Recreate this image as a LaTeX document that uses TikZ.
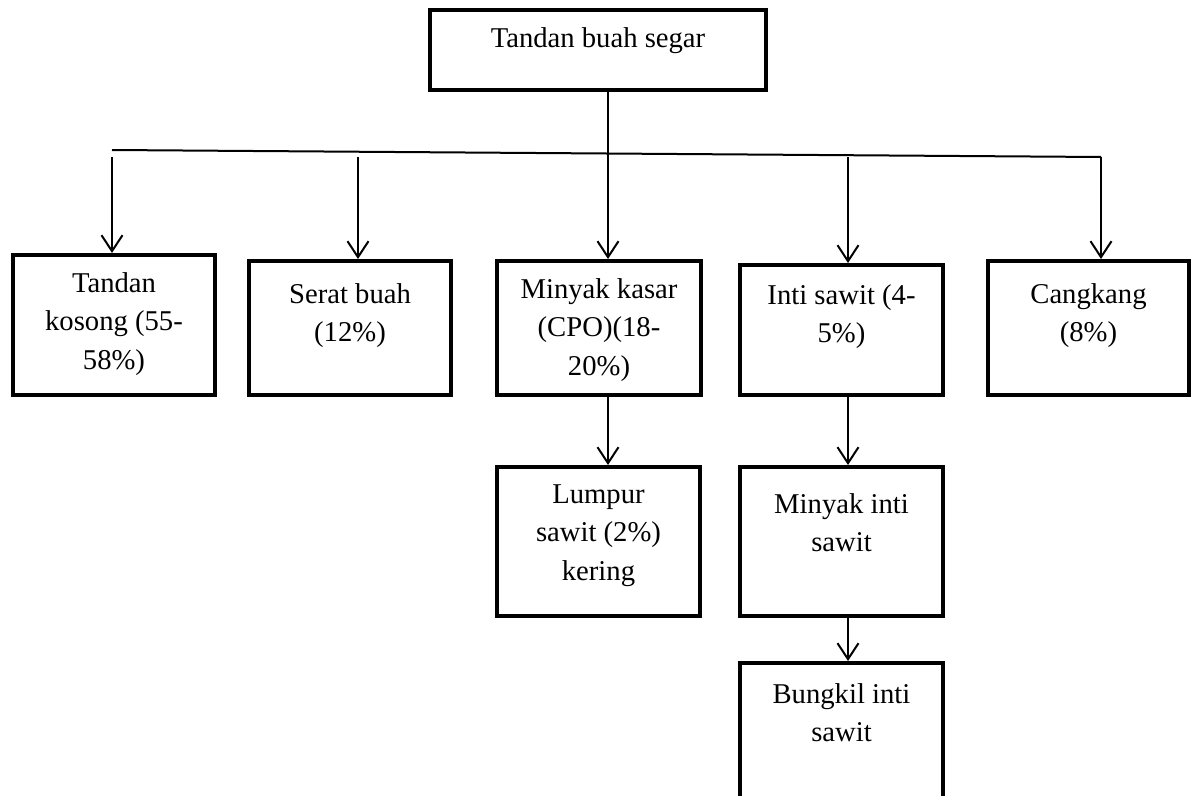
\documentclass[tikz,border=0pt]{standalone}
\usepackage{fontspec}
\setmainfont{Liberation Serif}
\usetikzlibrary{arrows.meta,calc}
\begin{document}
\begin{tikzpicture}[x=0.6pt,y=-0.6pt,
  box/.style={draw, line width=2.4pt, rectangle, inner sep=0pt},
  lbl/.style={anchor=base, align=center, inner sep=0pt, font=\fontsize{17.2pt}{23.1pt}\selectfont},
  conn/.style={line width=1.2pt},
  arr/.style={conn, -{Straight Barb[length=9.6pt,width=12.6pt,line width=1.2pt]}}]
\clip (0,0) rectangle (1194,796);
\fill[white] (0,0) rectangle (1194,796);
% boxes
\node[box, minimum width=201.6pt, minimum height=48pt] (top) at (598,50) {};
\node[box, minimum width=121.2pt, minimum height=84pt] (b1) at (114,325) {};
\node[box, minimum width=121.2pt, minimum height=80.4pt] (b2) at (350,328) {};
\node[box, minimum width=122.4pt, minimum height=80.4pt] (b3) at (599,328) {};
\node[box, minimum width=121.8pt, minimum height=78pt] (b4) at (841.5,330) {};
\node[box, minimum width=120.6pt, minimum height=80.4pt] (b5) at (1088.5,328) {};
\node[box, minimum width=121.8pt, minimum height=89.4pt] (lumpur) at (598.5,541.5) {};
\node[box, minimum width=121.8pt, minimum height=89.4pt] (minti) at (841.5,541.5) {};
\node[box, minimum width=121.8pt, minimum height=117.6pt] (bungkil) at (841.5,761) {};
% texts (anchor base = last line's baseline)
\node[lbl] (ttop) at (598,48) {Tandan buah segar};
\node[lbl] (t1) at (114,369) {Tandan\\kosong (55-\\58\%)};
\node[lbl] (t2) at (350,341.5) {Serat buah\\(12\%)};
\node[lbl] (t3) at (599,375) {Minyak kasar\\(CPO)(18-\\20\%)};
\node[lbl] (t4) at (841.5,342.5) {Inti sawit (4-\\5\%)};
\node[lbl] (t5) at (1088.5,341.5) {Cangkang\\(8\%)};
\node[lbl] (tl) at (598.5,580) {Lumpur\\sawit (2\%)\\kering};
\node[lbl] (tm) at (841.5,551.5) {Minyak inti\\sawit};
\node[lbl] (tb) at (841.5,741.5) {Bungkil inti\\sawit};
% connectors
\coordinate (hl) at (112,150);
\coordinate (hr) at (1101,157);
\coordinate (a1) at (112,157);
\coordinate (a2) at (358,157);
\coordinate (a4) at (848,157);
\coordinate (t0) at ($(top.south)+(10,0)$);
\coordinate (s3) at ($(b3.south)+(9,0)$);
\coordinate (s4) at ($(b4.south)+(6.5,0)$);
\coordinate (sm) at ($(minti.south)+(6.5,0)$);
\draw[conn] (hl) -- (hr);
\draw[arr] (hr) -- (hr |- b5.north);
\draw[arr] (a1) -- (a1 |- b1.north);
\draw[arr] (a2) -- (a2 |- b2.north);
\draw[arr] (a4) -- (a4 |- b4.north);
\draw[arr] (t0) -- (t0 |- b3.north);
\draw[arr] (s3) -- (s3 |- lumpur.north);
\draw[arr] (s4) -- (s4 |- minti.north);
\draw[arr] (sm) -- (sm |- bungkil.north);
\end{tikzpicture}
\end{document}
